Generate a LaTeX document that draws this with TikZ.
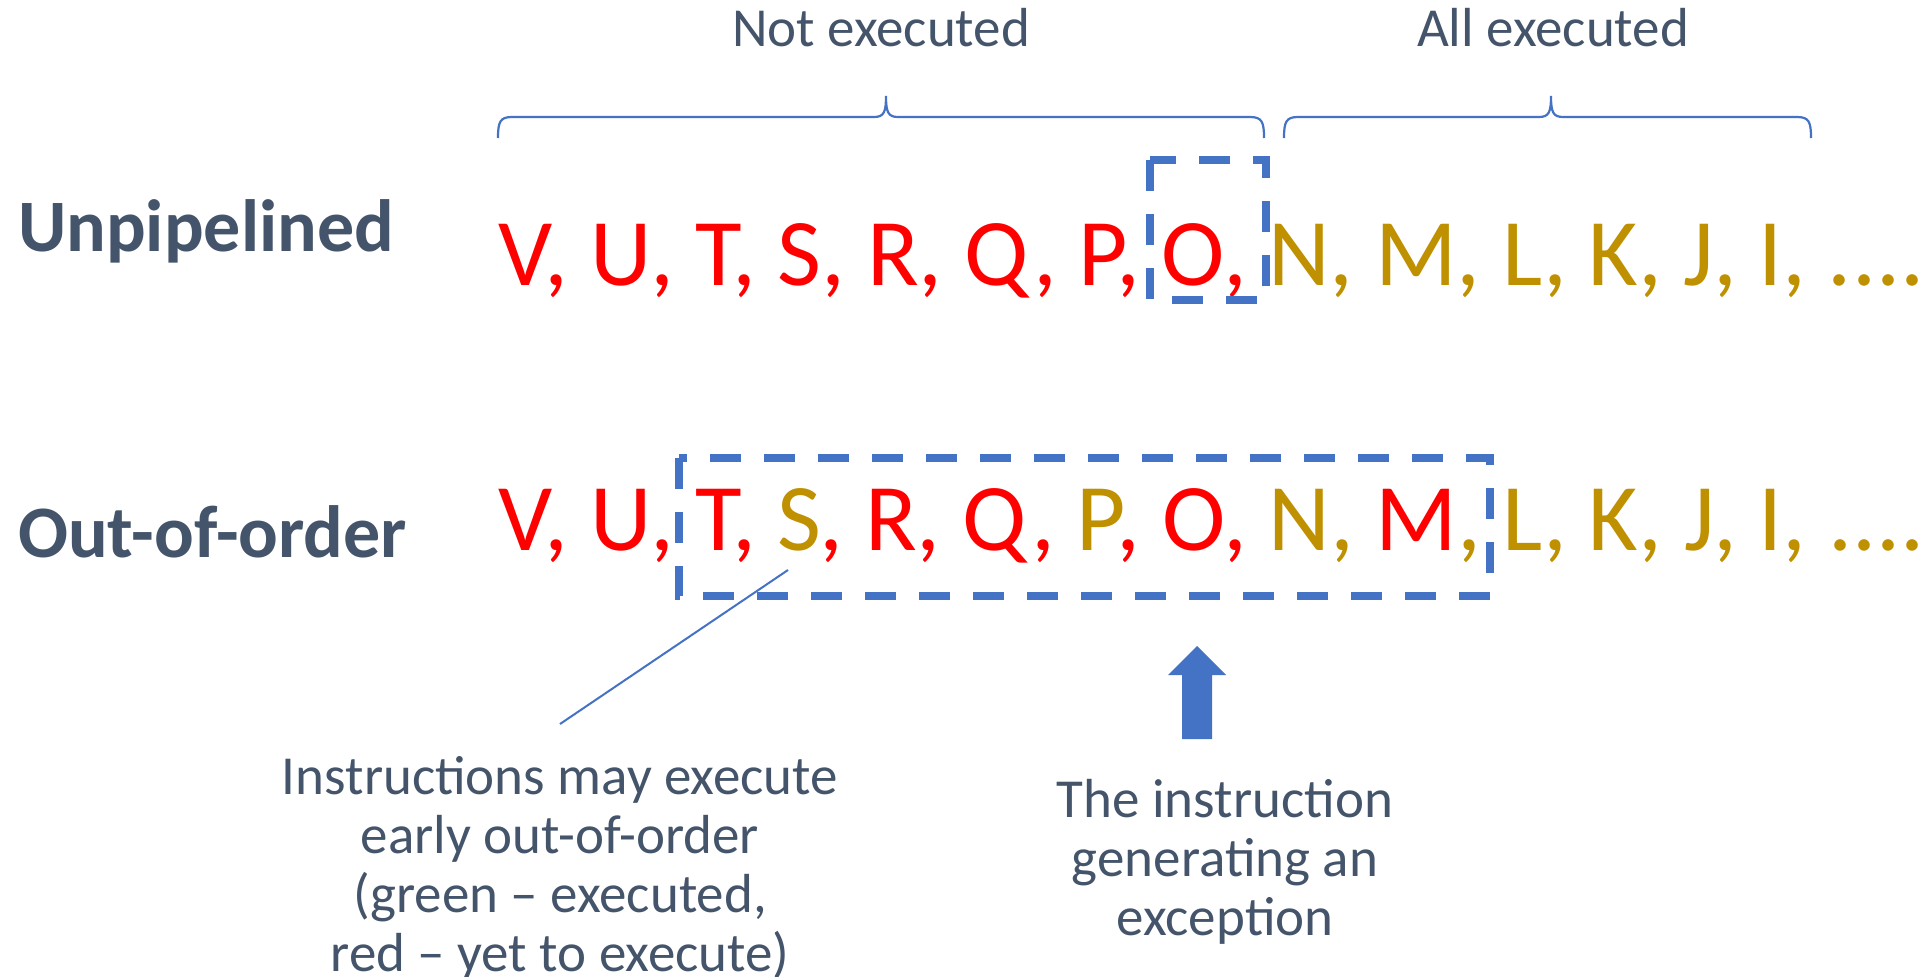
\documentclass[tikz,border=0pt]{standalone}
\usepackage{fontspec}
\setmainfont{Carlito}
\usetikzlibrary{arrows.meta}
\definecolor{txt}{HTML}{44546A}
\definecolor{ered}{HTML}{FF0000}
\definecolor{egold}{HTML}{BF9000}
\definecolor{eblue}{HTML}{4472C4}
\begin{document}
\begin{tikzpicture}[x=1pt,y=-1pt,
  headtxt/.style={font=\fontsize{55}{60}\selectfont, text=txt, inner sep=0pt},
  rowlabel/.style={font=\fontsize{74}{80}\selectfont\bfseries, text=txt, anchor=base west, inner sep=0pt},
  seq/.style={font=\fontsize{95.5}{100}\selectfont, anchor=base west, inner sep=0pt},
  dbox/.style={draw=eblue, line width=7.5pt, dash pattern=on 31pt off 23pt},
  bracepath/.style={draw=eblue, line width=2.2pt},
  leader/.style={draw=eblue, line width=2pt},
  notetxt/.style={font=\fontsize{55}{59}\selectfont, text=txt, inner sep=0pt, align=center, anchor=base}]
\useasboundingbox (0,0) rectangle (1930,977);
\fill[white] (0,0) rectangle (1930,977);

% headings
\node[headtxt, anchor=base] (notexec) at (881,46) {Not executed};
\node[headtxt, anchor=base] (allexec) at (1553,46) {All executed};

% braces
\draw[bracepath] (498,138) .. controls (498,122) and (500,117) .. (512,117)
  -- (874,117) .. controls (884,117) and (886,112) .. (886,96)
  .. controls (886,112) and (888,117) .. (898,117)
  -- (1250,117) .. controls (1262,117) and (1264,122) .. (1264,138);
\draw[bracepath] (1284,138) .. controls (1284,122) and (1286,117) .. (1298,117)
  -- (1539,117) .. controls (1549,117) and (1551,112) .. (1551,96)
  .. controls (1551,112) and (1553,117) .. (1563,117)
  -- (1797,117) .. controls (1809,117) and (1811,122) .. (1811,138);

% row labels
\node[rowlabel] (unpip) at (18,251) {Unpipelined};
\node[rowlabel] (ooo) at (18,557) {Out-of-order};

% sequences
\node[seq] (row1) at (498,285) {\textcolor{ered}{V, U, T, S, R, Q, P, O,} \textcolor{egold}{N, M, L, K, J, I, ....}};
\node[seq] (row2) at (498,550) {\textcolor{ered}{V, U, T,} \textcolor{egold}{S}\kern-0.02em\textcolor{ered}{, R, Q,} \textcolor{egold}{P}\kern-0.1em\textcolor{ered}{, O,} \textcolor{egold}{N, }\textcolor{ered}{M}\textcolor{egold}{, L, K, J, I, ....}};

% dashed boxes
\draw[dbox] (1150,160) rectangle (1266,300);
\draw[dbox] (679,458) rectangle (1490,596);

% notes
\node[notetxt] (note1) at (560,971) {Instructions may execute\\early out-of-order\\(green -- executed,\\red -- yet to execute)};
\node[notetxt] (note2) at (1225,935) {The instruction\\generating an\\exception};

% leader line
\coordinate (ldtop) at (788,570);
\coordinate (ldbot) at (560,724);
\draw[leader] (ldtop) -- (ldbot);

% thick arrow
\coordinate (arbase) at (1197,739);
\coordinate (artip) at (1197,646);
\draw[draw=none, fill=eblue] (1182,739) -- (1212,739) -- (1212,675) -- (1226,675) -- (artip) -- (1168,675) -- (1182,675) -- cycle;
\end{tikzpicture}
\end{document}
